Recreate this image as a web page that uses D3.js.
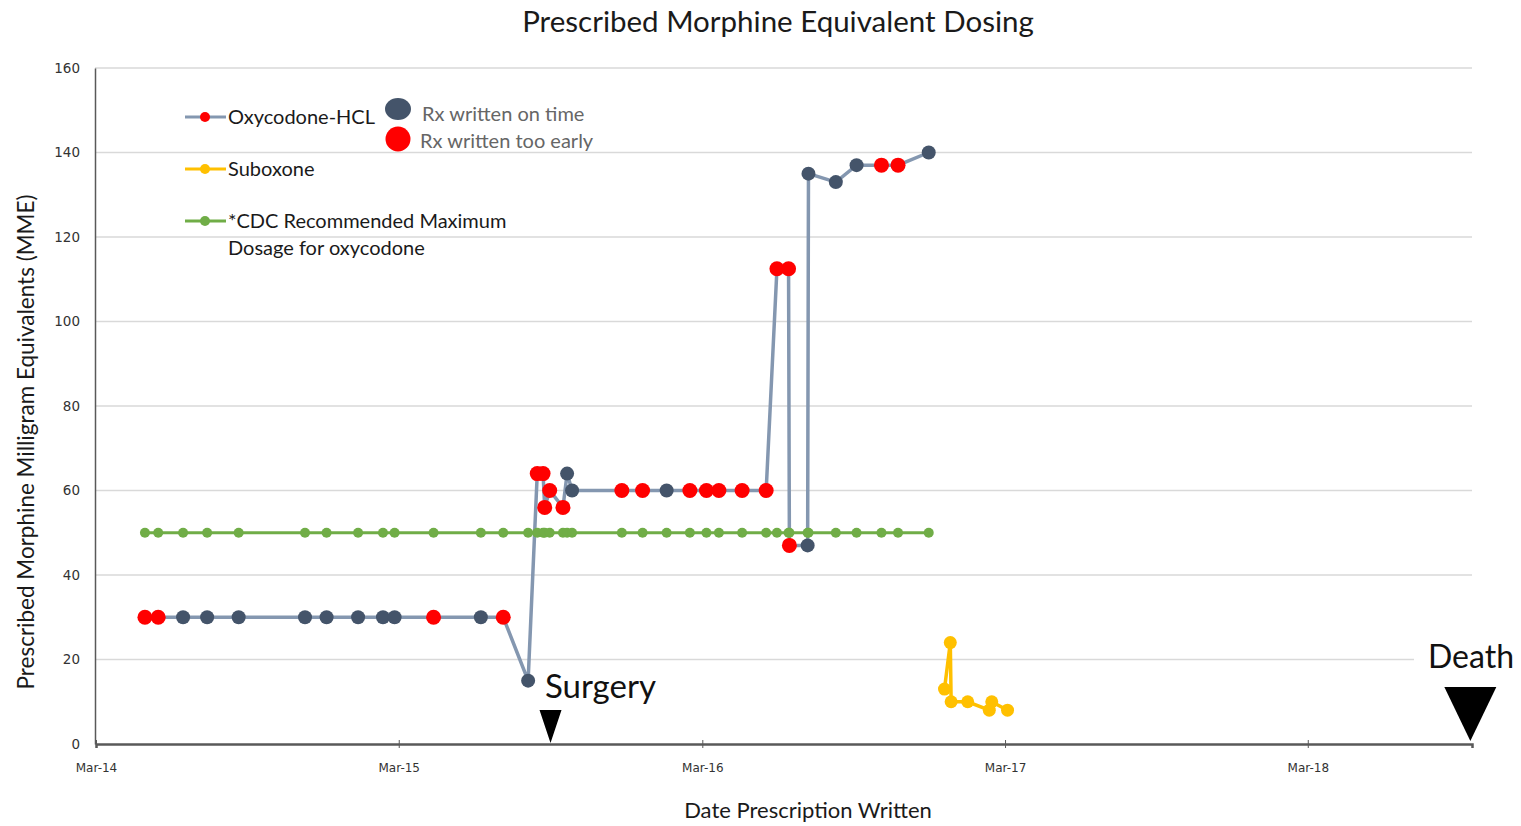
<!DOCTYPE html>
<html>
  <head>
    <meta charset="utf-8">
    <script src="https://d3js.org/d3.v7.min.js"></script>
    <style>
      body { margin: 0; background: #fff; }
      text { font-family: Lato, "Open Sans", sans-serif; }
      .tick-label { font-family: "DejaVu Sans", sans-serif; fill: #333; }
    </style>
  </head>
<body>
<script>
// chart data
var oxyDates = ["2014-04-29","2014-05-15","2014-06-14","2014-07-13","2014-08-20","2014-11-08","2014-12-04",
  "2015-01-11","2015-02-10","2015-02-24","2015-04-12","2015-06-08","2015-07-05","2015-08-04","2015-08-15",
  "2015-08-22","2015-08-24","2015-08-30","2015-09-15","2015-09-20","2015-09-26","2015-11-25","2015-12-20",
  "2016-01-18","2016-02-15","2016-03-06","2016-03-21","2016-04-18","2016-05-17","2016-05-30","2016-06-13",
  "2016-06-14","2016-07-06","2016-07-07","2016-08-09","2016-09-03","2016-10-03","2016-10-23","2016-11-29"];
var oxyValues = [30,30,30,30,30,30,30,30,30,30,30,30,30,15,64,64,56,60,56,64,60,60,60,60,60,60,60,60,60,
  112.5,112.5,47,47,135,133,137,137,137,140];
// E = written too early, T = written on time
var oxyStatus = ["E","E","T","T","T","T","T","T","T","T","E","T","E","T","E","E","E","E","E","T","T","E","E",
  "T","E","E","E","E","E","E","E","E","T","T","T","T","E","E","T"];
var cdcMax = 50;
var suboxoneDates = ["2016-12-18","2016-12-25","2016-12-26","2017-01-15","2017-02-10","2017-02-13","2017-03-04"];
var suboxoneValues = [13,24,10,10,8,10,8];
var yTicks = [0,20,40,60,80,100,120,140,160];
var xTickDates = ["2014-03-01","2015-03-01","2016-03-01","2017-03-01","2018-03-01"];
var xTickLabels = ["Mar-14","Mar-15","Mar-16","Mar-17","Mar-18"];
var surgeryDate = "2015-08-31";
var deathDate = "2018-09-13";

var parse = d3.timeParse("%Y-%m-%d");
var W = 1521, H = 826;
var svg = d3.select("body").append("svg").attr("width", W).attr("height", H);

var x = d3.scaleTime().domain([parse("2014-03-01"), parse("2018-09-15")]).range([96, 1472]);
var y = d3.scaleLinear().domain([0, 160]).range([744, 68]);

// title
svg.append("text").attr("x", 778).attr("y", 32).attr("text-anchor", "middle")
  .style("font-size", "29.5px").style("fill", "#1a1a1a").text("Prescribed Morphine Equivalent Dosing");

// gridlines
svg.append("g").selectAll("line").data(yTicks.slice(1)).enter().append("line")
  .attr("x1", 95).attr("x2", 1472).attr("y1", function(d) { return y(d); }).attr("y2", function(d) { return y(d); })
  .attr("stroke", "#d9d9d9").attr("stroke-width", 1.5);

// y axis
var yAxis = svg.append("g").attr("transform", "translate(95,0)")
  .call(d3.axisLeft(y).tickValues(yTicks).tickSize(0).tickPadding(15));
yAxis.select(".domain").attr("stroke", "#595959").attr("stroke-width", 1.5);
yAxis.selectAll("text").attr("class", "tick-label").style("font-size", "13.5px");

// x axis
var xAxis = svg.append("g").attr("transform", "translate(0,744)")
  .call(d3.axisBottom(x).tickValues(xTickDates.map(parse))
    .tickFormat(function(d, i) { return xTickLabels[i]; }).tickSize(4).tickPadding(15));
xAxis.select(".domain").attr("stroke", "#595959").attr("stroke-width", 2.5);
xAxis.selectAll(".tick line").attr("stroke", "#595959").attr("y1", -4);
xAxis.selectAll("text").attr("class", "tick-label").style("font-size", "12px");

// axis titles
svg.append("text").attr("x", 808).attr("y", 818).attr("text-anchor", "middle")
  .style("font-size", "22px").style("fill", "#1a1a1a").text("Date Prescription Written");
svg.append("text").attr("transform", "translate(34,442) rotate(-90)").attr("text-anchor", "middle")
  .style("font-size", "22.5px").style("fill", "#1a1a1a").text("Prescribed Morphine Milligram Equivalents (MME)");

var oxy = oxyDates.map(function(d, i) { return { date: parse(d), value: oxyValues[i], status: oxyStatus[i] }; });
var sub = suboxoneDates.map(function(d, i) { return { date: parse(d), value: suboxoneValues[i] }; });

var line = d3.line().x(function(d) { return x(d.date); }).y(function(d) { return y(d.value); });

// oxycodone line
svg.append("path").datum(oxy).attr("d", line).attr("fill", "none")
  .attr("stroke", "#8497b0").attr("stroke-width", 3.5);

// CDC recommended max, drawn on each prescription date
var cdc = oxy.map(function(d) { return { date: d.date, value: cdcMax }; });
svg.append("path").datum(cdc).attr("d", line).attr("fill", "none")
  .attr("stroke", "#70ad47").attr("stroke-width", 3);
svg.append("g").selectAll("circle").data(cdc).enter().append("circle")
  .attr("cx", function(d) { return x(d.date); }).attr("cy", function(d) { return y(d.value); })
  .attr("r", 5).attr("fill", "#70ad47");

// oxycodone points
svg.append("g").selectAll("circle").data(oxy).enter().append("circle")
  .attr("cx", function(d) { return x(d.date); }).attr("cy", function(d) { return y(d.value); })
  .attr("r", function(d) { return d.status == "E" ? 7.5 : 7; })
  .attr("fill", function(d) { return d.status == "E" ? "#ff0000" : "#44546a"; });

// suboxone
svg.append("path").datum(sub).attr("d", line).attr("fill", "none")
  .attr("stroke", "#ffc000").attr("stroke-width", 3.5);
svg.append("g").selectAll("circle").data(sub).enter().append("circle")
  .attr("cx", function(d) { return x(d.date); }).attr("cy", function(d) { return y(d.value); })
  .attr("r", 6.5).attr("fill", "#ffc000");

// surgery marker
var sx = x(parse(surgeryDate));
svg.append("path").attr("d", "M" + (sx - 11) + ",710L" + (sx + 11) + ",710L" + sx + ",743Z").attr("fill", "#000");
svg.append("text").attr("x", 545).attr("y", 698).style("font-size", "33px").style("fill", "#111").text("Surgery");

// death marker
var dx = x(parse(deathDate));
svg.append("rect").attr("x", 1414).attr("y", 636).attr("width", 107).attr("height", 42).attr("fill", "#fff");
svg.append("text").attr("x", 1428).attr("y", 668).style("font-size", "32px").style("fill", "#111").text("Death");
svg.append("path").attr("d", "M" + (dx - 26) + ",687L" + (dx + 26) + ",687L" + dx + ",741Z").attr("fill", "#000");

// legend
var lg = svg.append("g");
var legendRows = [
  { y: 117, color: "#8497b0", dot: "#ff0000", label: "Oxycodone-HCL" },
  { y: 169, color: "#ffc000", dot: "#ffc000", label: "Suboxone" },
  { y: 221, color: "#70ad47", dot: "#70ad47", label: "*CDC Recommended Maximum" }
];
legendRows.forEach(function(r) {
  lg.append("line").attr("x1", 185).attr("x2", 226).attr("y1", r.y).attr("y2", r.y)
    .attr("stroke", r.color).attr("stroke-width", 3);
  lg.append("circle").attr("cx", 205).attr("cy", r.y).attr("r", 5).attr("fill", r.dot);
  lg.append("text").attr("x", 228).attr("y", r.y + 7).style("font-size", "20px").style("fill", "#1a1a1a").text(r.label);
});
lg.append("text").attr("x", 228).attr("y", 255).style("font-size", "20px").style("fill", "#1a1a1a").text("Dosage for oxycodone");
lg.append("ellipse").attr("cx", 398).attr("cy", 109).attr("rx", 13).attr("ry", 11).attr("fill", "#44546a");
lg.append("circle").attr("cx", 398).attr("cy", 139).attr("r", 12.5).attr("fill", "#ff0000");
lg.append("text").attr("x", 422).attr("y", 121).style("font-size", "20px").style("fill", "#666").text("Rx written on time");
lg.append("text").attr("x", 420).attr("y", 148).style("font-size", "20px").style("fill", "#666").text("Rx written too early");
</script>
</body>
</html>
